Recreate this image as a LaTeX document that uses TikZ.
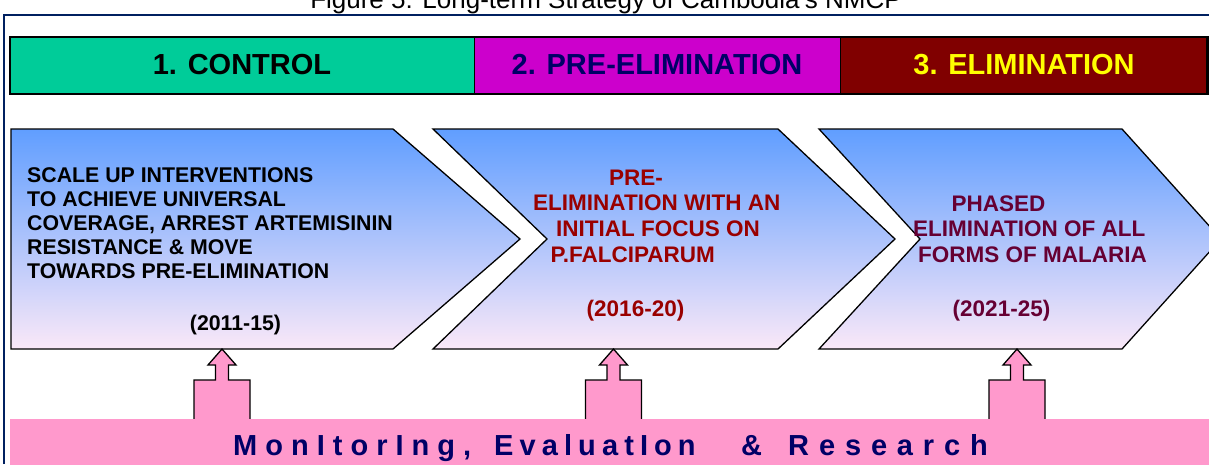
\documentclass[tikz,border=0pt]{standalone}
\usepackage{fontspec}
\setmainfont{Liberation Sans}
\definecolor{navyframe}{RGB}{0,32,96}
\definecolor{hgreen}{RGB}{0,204,153}
\definecolor{hmagenta}{RGB}{204,0,204}
\definecolor{hmaroon}{RGB}{128,0,0}
\definecolor{hnavy}{RGB}{0,0,102}
\definecolor{hyellow}{RGB}{255,255,0}
\definecolor{pinkfill}{RGB}{255,153,204}
\definecolor{chevtop}{RGB}{96,158,255}
\definecolor{chevmid}{RGB}{138,188,250}
\definecolor{chevbot}{RGB}{250,232,248}
\definecolor{redtext}{RGB}{153,0,0}
\definecolor{plumtext}{RGB}{102,0,51}
\tikzset{
  chevron/.style={draw=black,line width=1.3pt,line join=miter,top color=chevtop,middle color=chevmid,bottom color=chevbot},
  headtext/.style={anchor=base,inner sep=0pt,font=\fontsize{29}{34}\selectfont\bfseries},
  lineA/.style={anchor=base west,inner sep=0pt,font=\fontsize{21.3}{24}\selectfont\bfseries,text=black},
  lineB/.style={anchor=base west,inner sep=0pt,font=\fontsize{22.5}{25}\selectfont\bfseries,text=redtext},
  lineC/.style={anchor=base west,inner sep=0pt,font=\fontsize{22.5}{25}\selectfont\bfseries,text=plumtext},
  blockarrow/.style={draw=black,line width=1.3pt,fill=pinkfill,line join=miter},
}
\newcommand{\spreadword}[2]{{\addfontfeature{LetterSpace=#1}#2}}
\begin{document}
\begin{tikzpicture}[x=1pt,y=-1pt]
\useasboundingbox (0,0) rectangle (1209,464);
% title (cut by the page edge, as in the reference)
\node[anchor=base,inner sep=0pt,font=\fontsize{26}{30}\selectfont] (title) at (606,8) {Figure 5: Long-term Strategy of Cambodia's NMCP};
% frame
\draw[navyframe,line width=2pt] (4,464) -- (4,15) -- (1212,15);
% header bar
\fill[hgreen] (10,37) rectangle (474,94);
\fill[hmagenta] (474,37) rectangle (840,94);
\fill[hmaroon] (840,37) rectangle (1207.5,94);
\draw[line width=1pt] (474,37) -- (474,94) (840,37) -- (840,94);
\draw[line width=2.5pt] (10,37) rectangle (1207.5,94);
\node[headtext,text=black] (h1) at (242,74) {1. CONTROL};
\node[headtext,text=hnavy] (h2) at (657,74) {2. PRE-ELIMINATION};
\node[headtext,text=hyellow] (h3) at (1024,74) {3. ELIMINATION};
% chevrons
\path[chevron] (11,129) -- (393,129) -- (520,239) -- (393,349) -- (11,349) -- cycle;
\path[chevron] (433,129) -- (778,129) -- (895,239) -- (778,349) -- (433,349) -- (547,239) -- cycle;
\path[chevron] (819,129) -- (1122,129) -- (1221,239) -- (1122,349) -- (819,349) -- (920,239) -- cycle;
% chevron 1 text
\node[lineA] (a1) at (27,182.5) {SCALE UP INTERVENTIONS};
\node[lineA] (a2) at (27,206.5) {TO ACHIEVE UNIVERSAL};
\node[lineA] (a3) at (27,230.5) {COVERAGE, ARREST ARTEMISININ};
\node[lineA] (a4) at (27,254.5) {RESISTANCE \& MOVE};
\node[lineA] (a5) at (27,278.5) {TOWARDS PRE-ELIMINATION};
\node[lineA,anchor=base] (ay) at (235.5,330) {(2011-15)};
% chevron 2 text
\node[lineB] (b1) at (609,185) {PRE-};
\node[lineB] (b2) at (533,210.7) {ELIMINATION WITH AN};
\node[lineB] (b3) at (556,236.7) {INITIAL FOCUS ON};
\node[lineB] (b4) at (550.5,262.7) {P.FALCIPARUM};
\node[lineB,anchor=base] (by) at (635.5,316) {(2016-20)};
% chevron 3 text
\node[lineC] (c1) at (951.5,211) {PHASED};
\node[lineC] (c2) at (913,236.7) {ELIMINATION OF ALL};
\node[lineC] (c3) at (918,262.7) {FORMS OF MALARIA};
\node[lineC,anchor=base] (cy) at (1001.5,316) {(2021-25)};
% arrow tips
\coordinate (t1) at (222,349);
\coordinate (t2) at (613.5,349);
\coordinate (t3) at (1017,349);
\foreach \t in {t1,t2,t3}{
  \path[blockarrow,shift={(\t)}] (0,0) -- (14,16) -- (6.5,16) -- (6.5,31) -- (28,31) -- (28,80) -- (-28,80) -- (-28,31) -- (-6.5,31) -- (-6.5,16) -- (-14,16) -- cycle;
}
% band
\fill[pinkfill] (10,419) rectangle (1212,466);
\node[anchor=base west,inner sep=0pt,text=hnavy,font=\fontsize{29}{34}\selectfont\bfseries] (band) at (233,455) {\makebox[261pt][l]{\spreadword{27.6}{MonItorIng,}}\makebox[247pt][l]{\spreadword{21}{EvaluatIon}}\makebox[47pt][l]{\&}\spreadword{34}{Research}};
\end{tikzpicture}
\end{document}
